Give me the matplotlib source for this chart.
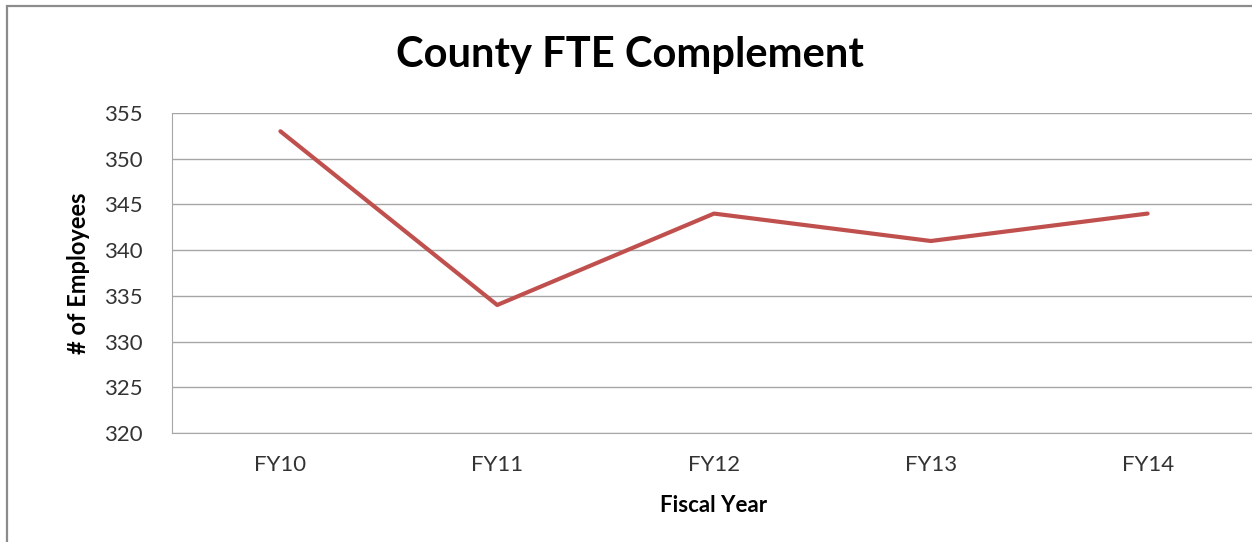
import matplotlib
matplotlib.use("Agg")
import matplotlib.pyplot as plt
from matplotlib.patches import Rectangle

# FTE headcount by fiscal year
years = ["FY10", "FY11", "FY12", "FY13", "FY14"]
employees = [353, 334, 344, 341, 344]
y_ticks = [320, 325, 330, 335, 340, 345, 350, 355]

plt.rcParams["font.family"] = ["Lato", "DejaVu Sans"]

W, H = 1252, 542
fig = plt.figure(figsize=(W / 100, H / 100), dpi=100)
fig.patch.set_facecolor("white")

# chart frame
fig.add_artist(Rectangle((7 / W, -0.1), 1.2, 1 - 6 / H + 0.1,
                         transform=fig.transFigure, fill=False,
                         edgecolor="#8c8c8c", linewidth=1.6))

left, right = 172 / W, 1256 / W
bottom, top = 1 - 433 / H, 1 - 113 / H
ax = fig.add_axes([left, bottom, right - left, top - bottom])

x = list(range(len(years)))
ax.plot(x, employees, color="#C0504D", linewidth=3.0, solid_capstyle="round",
        zorder=3)

ax.set_xlim(-0.5, len(years) - 0.5)
ax.set_ylim(y_ticks[0], y_ticks[-1])
ax.set_yticks(y_ticks)
ax.set_xticks(x)
ax.set_xticklabels(years)
ax.yaxis.grid(True, color="#a6a6a6", linewidth=1.0)
ax.set_axisbelow(True)

for s in ["top", "right"]:
    ax.spines[s].set_visible(False)
ax.spines["left"].set_color("#a6a6a6")
ax.spines["bottom"].set_color("#a6a6a6")
ax.tick_params(axis="both", length=0, labelsize=16, colors="#333333")
ax.tick_params(axis="y", pad=21)
ax.tick_params(axis="x", pad=16)

ax.set_ylabel("# of Employees", fontsize=17, fontweight="bold", labelpad=10,
              color="black")
ax.set_xlabel("Fiscal Year", fontsize=16, fontweight="bold", labelpad=14,
              color="black")

fig.text(630 / W, 1 - 55 / H, "County FTE Complement", fontsize=30,
         fontweight="bold", ha="center", va="center", color="black")

fig.savefig("out.png", dpi=100, facecolor="white")
